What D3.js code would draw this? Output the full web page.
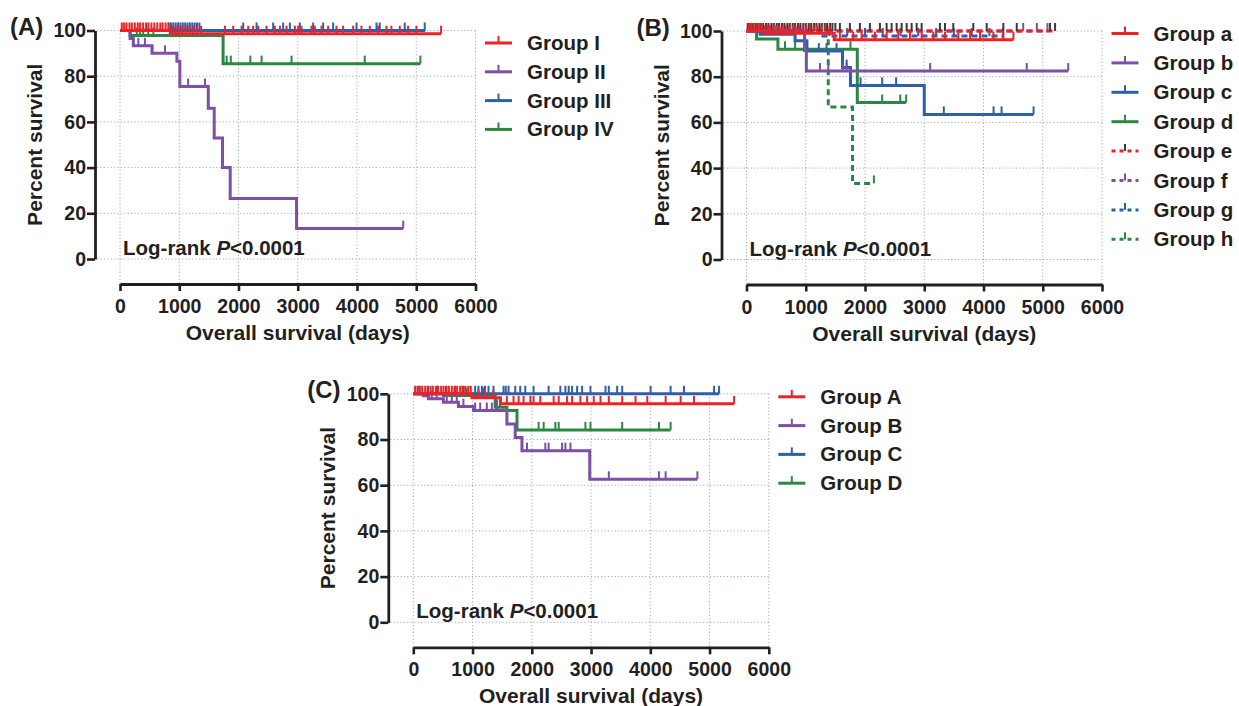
<!DOCTYPE html>
<html>
<head>
<meta charset="utf-8">
<script src="https://cdn.jsdelivr.net/npm/d3@7"></script>
<style>
  body { margin: 0; background: #fff; }
  svg { display: block; font-family: "Liberation Sans", Arial, Helvetica, sans-serif; }
</style>
</head>
<body>
<svg id="fig" width="1239" height="706"></svg>
<script>
//==================== DATA ====================
var xTicks = [0, 1000, 2000, 3000, 4000, 5000, 6000];
var yTicks = [0, 20, 40, 60, 80, 100];

// Panel A : step times (days), survival (%), last follow-up, censor times
var aI_t = [0, 850];
var aI_s = [100, 98.6];
var aI_end = 5420;
var aI_cens = [30, 70, 110, 160, 200, 250, 300, 340, 390, 440, 480, 530, 580, 630, 680, 720, 770, 820, 880, 940, 990, 1050, 1110, 1170, 1240, 1300, 1370, 1771, 1911, 2052, 2164, 2248, 2333, 2473, 2614, 2698, 2811, 2951, 3007, 3063, 3232, 3288, 3401, 3513, 3654, 3766, 3935, 4075, 4216, 4356, 4497, 4581, 4722, 4862, 5003, 5420];

var aII_t = [0, 170, 225, 540, 960, 1010, 1490, 1590, 1730, 1860, 2980];
var aII_s = [100, 96.5, 93.3, 90, 86.5, 75.5, 66, 53, 40, 26.5, 13.3];
var aII_end = 4780;
var aII_cens = [310, 420, 545, 760, 1150, 1435, 4780];

var aIII_t = [0];
var aIII_s = [100];
var aIII_end = 5150;
var aIII_cens = [820, 860, 900, 940, 980, 1020, 1060, 1100, 1140, 1180, 1220, 1260, 1300, 1340, 2080, 2305, 2585, 2754, 2867, 3035, 3260, 3429, 3597, 3992, 4329, 4384, 4806, 5143];

var aIV_t = [0, 170, 1740];
var aIV_s = [100, 97.8, 85.5];
var aIV_end = 5070;
var aIV_cens = [282, 337, 393, 477, 562, 843, 927, 1800, 1870, 2200, 2390, 2895, 4130, 5070];

// Panel B
var ba_t = [0, 300, 1480];
var ba_s = [100, 99, 96.2];
var ba_end = 4505;
var ba_cens = [40, 80, 120, 170, 220, 260, 310, 360, 400, 450, 500, 560, 610, 660, 720, 780, 830, 890, 950, 1010, 1070, 1130, 1190, 1260, 1330, 1400, 1576, 1801, 1943, 2167, 2365, 2561, 2759, 2956, 3154, 3350, 3575, 3773, 3941, 4167, 4336, 4505];

var bb_t = [0, 980, 1010];
var bb_s = [100, 91.5, 82.5];
var bb_end = 5430;
var bb_cens = [1240, 1380, 1630, 1690, 3100, 4730, 5430];

var bc_t = [0, 230, 820, 1020, 1620, 1755, 3000];
var bc_s = [100, 98.6, 95.7, 91.2, 84, 76.2, 63.5];
var bc_end = 4845;
var bc_cens = [400, 600, 1220, 1350, 1520, 1690, 1925, 2290, 2525, 3330, 4170, 4305, 4845];

var bd_t = [0, 170, 530, 1870];
var bd_s = [100, 96.5, 92, 68.7];
var bd_end = 2695;
var bd_cens = [650, 820, 1755, 2290, 2595, 2695];

var be_t = [0];
var be_s = [100];
var be_end = 5208;
var be_cens = [20, 60, 100, 150, 190, 240, 280, 330, 370, 420, 460, 510, 550, 600, 640, 690, 730, 780, 820, 870, 910, 960, 1000, 1050, 1090, 1140, 1180, 1230, 1270, 1320, 1360, 1410, 1450, 1500, 1576, 1745, 1914, 2083, 2252, 2365, 2449, 2534, 2618, 2703, 2787, 2872, 2956, 3265, 3350, 3490, 3828, 4054, 4335, 4561, 5123, 5208];

var bf_t = [0];
var bf_s = [100];
var bf_end = 5080;
var bf_cens = [4670, 4900, 5080];

var bg_t = [0, 1250];
var bg_s = [100, 97.8];
var bg_end = 4330;
var bg_cens = [1400, 1700, 2000, 2300, 2600, 2900, 3200, 3500, 3800, 4100, 4330];

var bh_t = [0, 1380, 1790];
var bh_s = [100, 66.7, 33.3];
var bh_end = 2150;
var bh_cens = [2150];

// Panel C
var cA_t = [0, 990, 1470];
var cA_s = [100, 98.3, 95.6];
var cA_end = 5415;
var cA_cens = [30, 70, 110, 150, 200, 240, 290, 330, 380, 420, 470, 510, 560, 600, 650, 700, 740, 790, 830, 880, 930, 970, 1100, 1210, 1350, 1580, 1692, 1777, 1861, 1975, 2030, 2143, 2369, 2454, 2596, 2680, 2820, 2934, 3046, 3159, 3300, 3526, 3751, 3949, 4259, 4513, 4738, 5415];

var cB_t = [0, 169, 254, 508, 761, 1015, 1580, 1720, 1834, 2978];
var cB_s = [100, 99.2, 97.8, 96.3, 94.4, 92.7, 86.8, 80.9, 75.1, 62.6];
var cB_end = 4795;
var cB_cens = [311, 396, 565, 650, 734, 846, 1044, 1129, 1241, 1326, 1411, 1919, 2228, 2284, 2511, 2567, 2652, 3300, 4146, 4259, 4795];

var cC_t = [0];
var cC_s = [100];
var cC_end = 5161;
var cC_cens = [100, 250, 400, 550, 700, 850, 1044, 1100, 1157, 1210, 1269, 1354, 1523, 1560, 1607, 1721, 1805, 1890, 2030, 2284, 2482, 2567, 2623, 2680, 2765, 2849, 2990, 3244, 3300, 3441, 3526, 4005, 4343, 4569, 5076, 5161];

var cD_t = [0, 508, 1382, 1580, 1750];
var cD_s = [100, 99.3, 94.1, 92.7, 84.2];
var cD_end = 4343;
var cD_cens = [700, 900, 1180, 1411, 1465, 2115, 2200, 2398, 2454, 2905, 2990, 3526, 4146, 4343];

//==================== STYLE ====================
var RED = "#ec2227", PURPLE = "#7e4fa6", BLUE = "#2d5fab", GREEN = "#2b8743";
var INK = "#231f20";

function grp(name, color, t, s, end, cens, dashed, tickColor) {
  return { name: name, color: color, t: t, s: s, end: end, cens: cens,
           dashed: !!dashed, tickColor: tickColor || color };
}

var groupsA = [
  grp("Group I", RED, aI_t, aI_s, aI_end, aI_cens),
  grp("Group II", PURPLE, aII_t, aII_s, aII_end, aII_cens),
  grp("Group III", BLUE, aIII_t, aIII_s, aIII_end, aIII_cens),
  grp("Group IV", GREEN, aIV_t, aIV_s, aIV_end, aIV_cens)
];
var groupsB = [
  grp("Group a", RED, ba_t, ba_s, ba_end, ba_cens),
  grp("Group b", PURPLE, bb_t, bb_s, bb_end, bb_cens),
  grp("Group c", BLUE, bc_t, bc_s, bc_end, bc_cens),
  grp("Group d", GREEN, bd_t, bd_s, bd_end, bd_cens),
  grp("Group e", RED, be_t, be_s, be_end, be_cens, true, "#3a3a3a"),
  grp("Group f", PURPLE, bf_t, bf_s, bf_end, bf_cens, true),
  grp("Group g", BLUE, bg_t, bg_s, bg_end, bg_cens, true),
  grp("Group h", GREEN, bh_t, bh_s, bh_end, bh_cens, true)
];
var groupsC = [
  grp("Group A", RED, cA_t, cA_s, cA_end, cA_cens),
  grp("Group B", PURPLE, cB_t, cB_s, cB_end, cB_cens),
  grp("Group C", BLUE, cC_t, cC_s, cC_end, cC_cens),
  grp("Group D", GREEN, cD_t, cD_s, cD_end, cD_cens)
];

var svg = d3.select("#fig");

//==================== PANEL ====================
function kmPanel(opts) {
  var g = svg.append("g").attr("transform", "translate(" + opts.dx + "," + opts.dy + ")");

  var x = d3.scaleLinear().domain([0, 6000]).range([120, 475.5]);
  var y = d3.scaleLinear().domain([0, 100]).range([259, 30.5]);
  var yAxisAt = 95, xAxisAt = 284;

  // dotted grid
  var grid = g.append("g")
    .attr("stroke", "#a3acbc").attr("stroke-width", 1).attr("stroke-dasharray", "1.2,2.2");
  grid.selectAll(".hg").data(yTicks).join("line").attr("class", "hg")
    .attr("x1", yAxisAt + 2).attr("x2", x(6000))
    .attr("y1", function (d) { return y(d); }).attr("y2", function (d) { return y(d); });
  grid.selectAll(".vg").data(xTicks).join("line").attr("class", "vg")
    .attr("x1", function (d) { return x(d); }).attr("x2", function (d) { return x(d); })
    .attr("y1", y(100)).attr("y2", xAxisAt);

  // axes
  var yAx = g.append("g").attr("transform", "translate(" + yAxisAt + ",0)")
    .call(d3.axisLeft(y).tickValues(yTicks).tickSize(8).tickSizeOuter(0).tickPadding(1));
  var xAx = g.append("g").attr("transform", "translate(0," + xAxisAt + ")")
    .call(d3.axisBottom(x).tickValues(xTicks).tickFormat(d3.format("d"))
      .tickSize(7).tickSizeOuter(0));
  [yAx, xAx].forEach(function (ax) {
    ax.select(".domain").attr("stroke", INK).attr("stroke-width", 2.8);
    ax.selectAll(".tick line").attr("stroke", INK).attr("stroke-width", 2.6);
    ax.selectAll("text").attr("fill", INK).style("font-size", "19.5px").style("font-weight", "bold");
  });
  xAx.selectAll("text").attr("dy", null).attr("y", 29);

  // axis titles
  g.append("text")
    .attr("transform", "translate(42," + ((y(0) + y(100)) / 2) + ") rotate(-90)")
    .attr("text-anchor", "middle").attr("fill", INK)
    .style("font-size", "21px").style("font-weight", "bold")
    .text("Percent survival");
  g.append("text")
    .attr("x", (x(0) + x(6000)) / 2).attr("y", 340)
    .attr("text-anchor", "middle").attr("fill", INK)
    .style("font-size", "21px").style("font-weight", "bold")
    .text("Overall survival (days)");

  // panel letter
  g.append("text").attr("x", opts.labelX).attr("y", 35).attr("fill", INK)
    .style("font-size", "24px").style("font-weight", "bold").text(opts.label);

  // log-rank note
  var lr = g.append("text").attr("x", x(0) + 3).attr("y", y(0) - 4).attr("fill", INK)
    .style("font-size", "20.5px").style("font-weight", "bold");
  lr.append("tspan").text("Log-rank ");
  lr.append("tspan").style("font-style", "italic").text("P");
  lr.append("tspan").text("<0.0001");

  // survival at time t (step function)
  function survAt(gr, t) {
    var v = gr.s[0];
    for (var i = 0; i < gr.t.length; i++) { if (gr.t[i] <= t) v = gr.s[i]; }
    return v;
  }

  var line = d3.line()
    .x(function (d) { return x(d[0]); })
    .y(function (d) { return y(d[1]); })
    .curve(d3.curveStepAfter);

  // curves, last group first so the first legend entry ends up on top
  opts.groups.slice().reverse().forEach(function (gr) {
    var pts = gr.t.map(function (t, i) { return [t, gr.s[i]]; });
    pts.push([gr.end, gr.s[gr.s.length - 1]]);
    var cg = g.append("g");
    cg.append("path").datum(pts)
      .attr("d", line).attr("fill", "none")
      .attr("stroke", gr.color).attr("stroke-width", 3)
      .attr("stroke-dasharray", gr.dashed ? "6,4" : null);
    cg.selectAll("line").data(gr.cens).join("line")
      .attr("x1", function (d) { return x(d); }).attr("x2", function (d) { return x(d); })
      .attr("y1", function (d) { return y(survAt(gr, d)); })
      .attr("y2", function (d) { return y(survAt(gr, d)) - 8; })
      .attr("stroke", gr.tickColor).attr("stroke-width", 2);
  });

  // legend
  var lg = g.append("g");
  opts.groups.forEach(function (gr, i) {
    var ly = opts.legendTop + i * opts.legendStep;
    lg.append("line").attr("x1", 485).attr("x2", 512).attr("y1", ly).attr("y2", ly)
      .attr("stroke", gr.color).attr("stroke-width", 3)
      .attr("stroke-dasharray", gr.dashed ? "4,4" : null);
    lg.append("line").attr("x1", 498.5).attr("x2", 498.5).attr("y1", ly).attr("y2", ly - 7)
      .attr("stroke", gr.tickColor).attr("stroke-width", 2);
    lg.append("text").attr("x", 527).attr("y", ly + 7).attr("fill", INK)
      .style("font-size", "20.5px").style("font-weight", "bold").text(gr.name);
  });
}

kmPanel({ dx: 0, dy: 0, label: "(A)", labelX: 10, groups: groupsA, legendTop: 43, legendStep: 28.8 });
kmPanel({ dx: 626.5, dy: 0.5, label: "(B)", labelX: 10, groups: groupsB, legendTop: 33, legendStep: 29.4 });
kmPanel({ dx: 293.3, dy: 363.3, label: "(C)", labelX: 14, groups: groupsC, legendTop: 33.5, legendStep: 28.8 });
</script>
</body>
</html>
